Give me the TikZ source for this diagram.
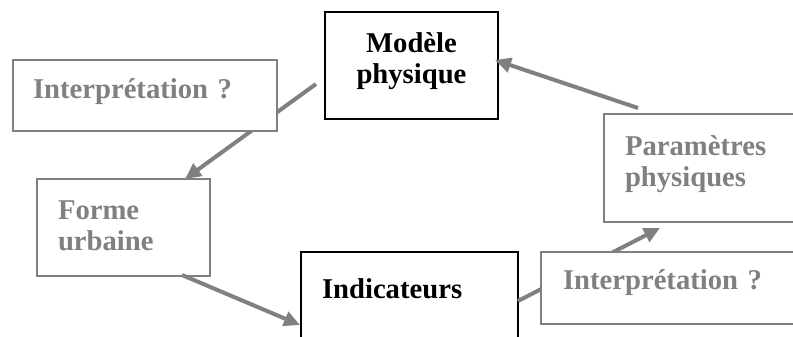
\documentclass[tikz,border=0pt]{standalone}
\usepackage{fontspec}
\setmainfont{Liberation Serif}
\usepackage{tikz}
\usetikzlibrary{arrows.meta}
\usepackage{xcolor}
\definecolor{grisbloc}{HTML}{808080}

\begin{document}
\begin{tikzpicture}[x=0.75pt, y=-0.75pt,
    bloc/.style={draw, line width=1.5pt, outer sep=0pt, inner ysep=0pt, anchor=north west,
      font=\bfseries\fontsize{21.5}{23.6}\selectfont},
    noir/.style={bloc, draw=black, text=black},
    gris/.style={bloc, draw=grisbloc, text=grisbloc, fill=white, align=left},
    fleche/.style={-{Triangle[length=12pt,width=11pt]}, line width=3pt, grisbloc}]
                    \clip (0,0) rectangle (793,336);
                    \node[noir, align=center, inner xsep=0pt, text width=129.75pt, text height=30pt, text depth=50.25pt] (modele) at (325,12) {Modèle\\physique};
                    \node[gris, fill=none, inner xsep=15.75pt, text width=98.25pt, text height=30pt, text depth=42.75pt] (forme) at (37,179) {Forme\\urbaine};
                    \node[noir, align=left, inner xsep=15.75pt, text width=131.25pt, text height=34.5pt, text depth=39pt] (indic) at (301,252) {Indicateurs};
                    \node[gris, fill=none, inner xsep=15.75pt, text width=126pt, text height=30.75pt, text depth=50.25pt] (param) at (604,114) {Paramètres\\physiques};
                    \draw[fleche] ([shift={(-9,18.5)}]modele.west) -- ([shift={(61.5,0)}]forme.north);
                    \draw[fleche] ([shift={(58.5,-1)}]forme.south) -- ([shift={(-1,24)}]indic.west);
                    \draw[fleche] (indic.east) -- ([shift={(-49,6)}]param.south);
                    \draw[fleche] ([shift={(-71,-6)}]param.north) -- ([shift={(-3,-5.5)}]modele.east);
                    \node[gris, inner xsep=15pt, text width=168pt, text height=28.5pt, text depth=24.75pt] (interpG) at (13,60) {Interprétation ?};
                    \node[gris, inner xsep=16.5pt, text width=165pt, text height=27.75pt, text depth=26.25pt] (interpD) at (541,252) {Interprétation ?};
                \end{tikzpicture}
\end{document}
